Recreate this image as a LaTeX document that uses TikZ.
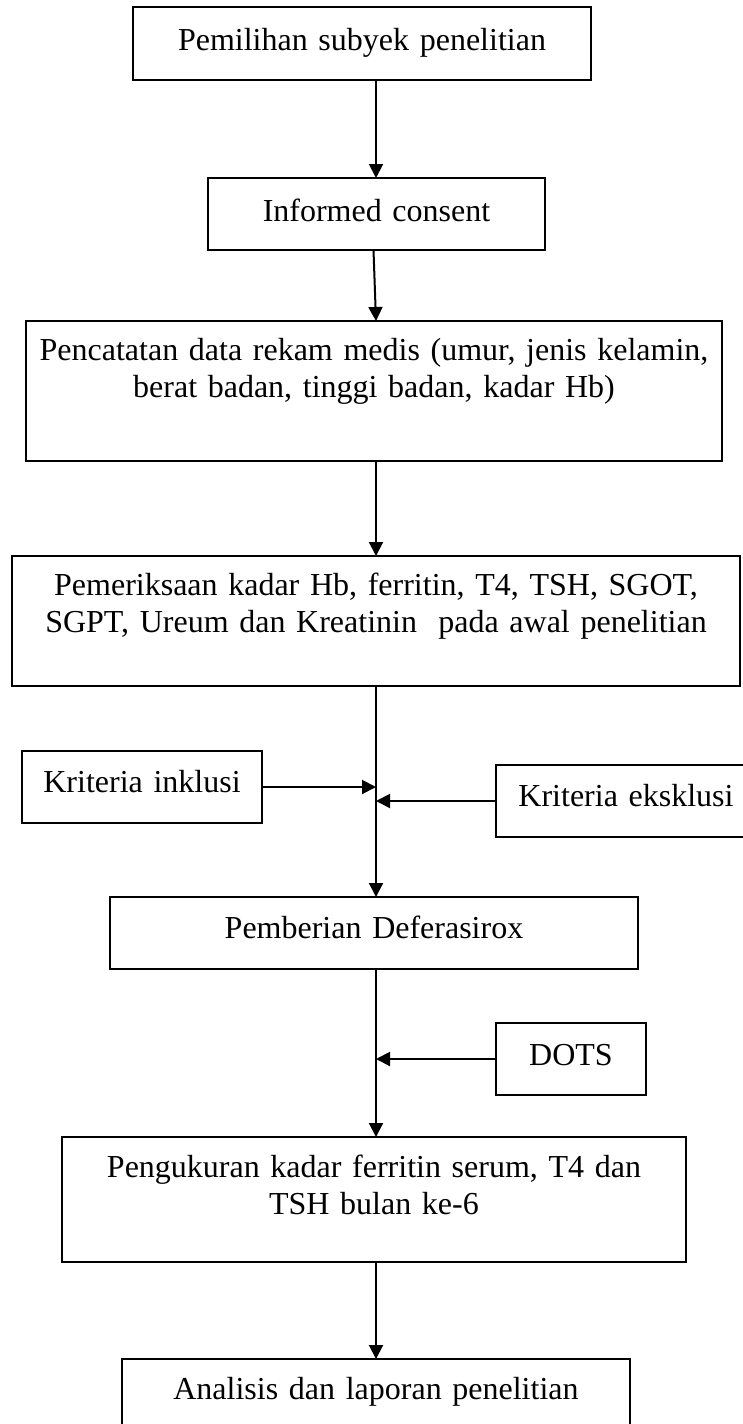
\documentclass[tikz,border=0pt]{standalone}
\usepackage{fontspec}
\setmainfont{Liberation Serif}
\usetikzlibrary{arrows.meta}
\begin{document}
\begin{tikzpicture}[x=1pt,y=-1pt,
  box/.style={draw,line width=2pt,inner sep=0pt,outer sep=0pt,rectangle},
  txt/.style={inner sep=0pt,anchor=base,align=center,font=\fontsize{32}{37}\selectfont},
  arr/.style={line width=2pt,-{Triangle[length=14pt,width=14pt]}}]
\clip (0,0) rectangle (743,1424);
\fill[white] (0,0) rectangle (743,1424);
\coordinate (spine) at (376,0);

% boxes
\node[box,minimum width=458pt,minimum height=73pt] (b1) at (362,43.5) {};
\node[box,minimum width=337pt,minimum height=72pt] (ic) at (376.5,214) {};
\node[box,minimum width=696pt,minimum height=140pt] (pc) at (374,391) {};
\node[box,minimum width=728pt,minimum height=130pt] (pm) at (376,621) {};
\node[box,minimum width=240pt,minimum height=72pt] (ki) at (142,787) {};
\node[box,minimum width=260pt,minimum height=72pt] (ke) at (626,801) {};
\node[box,minimum width=528pt,minimum height=72pt] (df) at (374,933) {};
\node[box,minimum width=150pt,minimum height=72pt] (dots) at (571,1059) {};
\node[box,minimum width=624pt,minimum height=125pt] (pk) at (374,1199.5) {};
\node[box,minimum width=508pt,minimum height=73pt] (an) at (376,1395.5) {};

% labels
\node[txt,text width=440pt] (t1) at (362,50) {Pemilihan subyek penelitian};
\node[txt,text width=320pt] (t2) at (376.5,221) {Informed consent};
\node[txt,text width=680pt] (t3) at (374,360) {Pencatatan data rekam medis (umur, jenis kelamin,\\berat badan, tinggi badan, kadar Hb)};
\node[txt,text width=712pt] (t4) at (376,595) {Pemeriksaan kadar Hb, ferritin, T4, TSH, SGOT,\\SGPT, Ureum dan Kreatinin~ pada awal penelitian};
\node[txt,text width=230pt] (t5) at (142,792) {Kriteria inklusi};
\node[txt,text width=250pt] (t6) at (626,806) {Kriteria eksklusi};
\node[txt,text width=510pt] (t7) at (374,938) {Pemberian Deferasirox};
\node[txt,text width=140pt] (t8) at (571,1065) {DOTS};
\node[txt,text width=600pt] (t9) at (374,1177) {Pengukuran kadar ferritin serum, T4 dan\\TSH bulan ke-6};
\node[txt,text width=490pt] (t10) at (376,1399) {Analisis dan laporan penelitian};

% connectors
\draw[arr] (b1.south -| spine) -- (ic.north -| spine);
\draw[arr] ([xshift=-3pt]ic.south) -- (pc.north -| spine);
\draw[arr] (pc.south -| spine) -- (pm.north -| spine);
\draw[arr] (pm.south -| spine) -- (df.north -| spine);
\draw[arr] (ki.east) -- (ki.east -| spine);
\draw[arr] (ke.west) -- (ke.west -| spine);
\draw[arr] (df.south -| spine) -- (pk.north -| spine);
\draw[arr] (dots.west) -- (dots.west -| spine);
\draw[arr] (pk.south -| spine) -- (an.north -| spine);
\end{tikzpicture}
\end{document}
